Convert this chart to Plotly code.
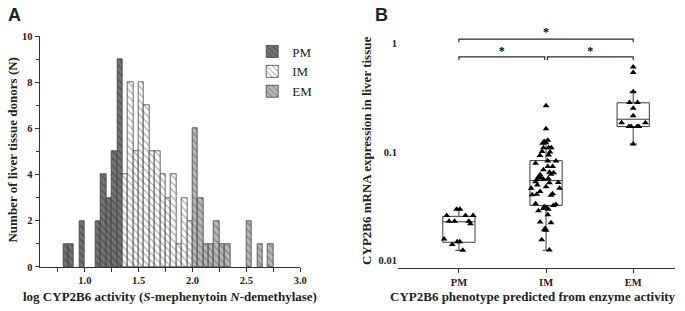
import plotly.graph_objects as go

# ---------------- Panel A data (histogram, bin width 0.05) ----------------
pm_bin_start = [0.80, 0.85, 0.95, 1.10, 1.15, 1.20, 1.25, 1.30]
pm_counts    = [1, 1, 2, 2, 4, 3, 5, 9]
im_bin_start = [1.35, 1.40, 1.45, 1.50, 1.55, 1.60, 1.65, 1.70, 1.75, 1.80, 1.85, 1.90, 1.95]
im_counts    = [4, 8, 5, 8, 7, 5, 5, 4, 3, 4, 1, 3, 2]
em_bin_start = [2.00, 2.05, 2.10, 2.15, 2.20, 2.25, 2.30, 2.50, 2.60, 2.70]
em_counts    = [6, 3, 1, 1, 2, 1, 1, 2, 1, 1]
bin_width = 0.05

# ---------------- Panel B data (mRNA expression) ----------------
categories = ["PM", "IM", "EM"]
pm_values = [0.0298, 0.0298, 0.0260, 0.0260, 0.0260, 0.0231, 0.0231, 0.0231,
             0.0219, 0.0158, 0.0141, 0.0149, 0.0149, 0.01245]
pm_jitter = [-0.026, 0.011, -0.14, 0.076, 0.163, -0.114, -0.049, 0.114,
             0.133, -0.17, -0.076, -0.019, 0.011, 0.045]
im_values = [0.268, 0.164, 0.129, 0.125, 0.121, 0.122, 0.110, 0.110, 0.110, 0.1016,
             0.1004, 0.093, 0.094, 0.0828, 0.079, 0.0739, 0.0739, 0.0689, 0.0653, 0.0644,
             0.0627, 0.0618, 0.0589, 0.0577, 0.0558, 0.0561, 0.0570, 0.0525, 0.0522, 0.0532,
             0.0464, 0.0464, 0.0434, 0.0410, 0.0405, 0.0413, 0.0400, 0.0334, 0.0330, 0.0323,
             0.0313, 0.0308, 0.0302, 0.0298, 0.0288, 0.0265, 0.0227, 0.0224, 0.0198, 0.0191,
             0.0193, 0.0156, 0.01253, 0.048, 0.0828, 0.0497]
im_jitter = [0, 0, 0.02, -0.02, -0.04, 0, -0.03, 0.03, 0.06, -0.045,
             0.045, -0.07, 0.03, 0.114, -0.12, 0.02, 0.076, -0.03, 0.038, 0.087,
             0.057, -0.068, -0.087, -0.057, -0.106, -0.03, 0.026, 0.14, 0.038, -0.12,
             -0.17, 0.155, -0.068, -0.106, -0.16, 0.076, 0.057, -0.12, 0.114, 0.083,
             -0.02, 0.01, -0.03, 0.026, -0.087, 0.02, -0.068, 0.057, -0.01, 0,
             -0.02, -0.05, 0.038, 0, 0.02, -0.1]
em_values = [0.608, 0.541, 0.360, 0.287, 0.287, 0.254, 0.216, 0.187, 0.187,
             0.172, 0.172, 0.172, 0.172, 0.119]
em_jitter = [0, 0, 0, -0.042, 0.049, 0, 0, -0.133, 0.14, -0.049, -0.023, 0.045, 0.065, 0]

box_q1 = [0.01476, 0.0323, 0.172]
box_median = [0.0228, 0.0547, 0.201]
box_q3 = [0.0256, 0.0835, 0.285]
box_lower = [0.01245, 0.01245, 0.119]
box_upper = [0.0298, 0.129, 0.360]

# significance brackets: (from category, to category, level)
brackets = [(0, 2, 1.10), (0, 0.985, 0.755), (1.015, 2, 0.755)]
bracket_drop = [1.027, 0.706, 0.706]
star_levels = [1.25, 0.835, 0.835]
star_text = ["*", "*", "*"]

SERIF = "Liberation Serif"
AX = "#333333"
TXT = "#222222"

fig = go.Figure()

def centers(starts):
    return [s + bin_width / 2 for s in starts]

hist_styles = [
    ("PM", pm_bin_start, pm_counts, "#747474", "#2a2a2a"),
    ("IM", im_bin_start, im_counts, "#ffffff", "#555555"),
    ("EM", em_bin_start, em_counts, "#b8b8b8", "#4a4a4a"),
]
for name, starts, counts, fill, fg in hist_styles:
    fig.add_trace(go.Bar(
        x=centers(starts), y=counts, width=bin_width, name=name,
        marker=dict(color=fill, line=dict(color="#404040", width=0.8),
                    pattern=dict(shape="\\", fgcolor=fg, bgcolor=fill, size=5, solidity=0.25)),
        xaxis="x", yaxis="y", showlegend=True,
    ))

for i in range(3):
    fig.add_trace(go.Box(
        x=[i], q1=[box_q1[i]], median=[box_median[i]], q3=[box_q3[i]],
        lowerfence=[box_lower[i]], upperfence=[box_upper[i]],
        width=0.37, whiskerwidth=0.22, fillcolor="white",
        line=dict(color="#3a3a3a", width=1), boxpoints=False,
        xaxis="x2", yaxis="y2", showlegend=False,
    ))

for i, (vals, jit) in enumerate([(pm_values, pm_jitter), (im_values, im_jitter), (em_values, em_jitter)]):
    fig.add_trace(go.Scatter(
        x=[i + j for j in jit], y=vals, mode="markers",
        marker=dict(symbol="triangle-up", size=6, color="black"),
        xaxis="x2", yaxis="y2", showlegend=False,
    ))

for (a, b, lvl), drop in zip(brackets, bracket_drop):
    fig.add_trace(go.Scatter(
        x=[a, a, b, b], y=[drop, lvl, lvl, drop], mode="lines",
        line=dict(color="#2a2a2a", width=1.2), xaxis="x2", yaxis="y2",
        showlegend=False, hoverinfo="skip",
    ))
fig.add_trace(go.Scatter(
    x=[(a + b) / 2 for a, b, _ in brackets], y=star_levels, mode="text", text=star_text,
    textposition="middle center",
    textfont=dict(family=SERIF, size=12, color="#000000", weight="bold"),
    xaxis="x2", yaxis="y2", showlegend=False, hoverinfo="skip",
))

tickfont = dict(family=SERIF, size=10.5, color=TXT, weight="bold")

fig.update_layout(
    width=685, height=311, margin=dict(l=0, r=0, t=0, b=0),
    paper_bgcolor="white", plot_bgcolor="white",
    bargap=0, barmode="overlay",
    font=dict(family=SERIF, color=TXT),
    xaxis=dict(domain=[40 / 685, 303.3 / 685], range=[0.58, 3.0], anchor="y",
               tickvals=[1.0, 1.5, 2.0, 2.5, 3.0], ticktext=["1.0", "1.5", "2.0", "2.5", "3.0"],
               ticks="outside", ticklen=4, tickcolor=AX, showline=True, linecolor=AX,
               linewidth=1, showgrid=False, zeroline=False, tickfont=tickfont,
               minor=dict(tickvals=[0.75, 1.25, 1.75, 2.25, 2.75], ticks="outside",
                          ticklen=4, tickcolor=AX)),
    yaxis=dict(domain=[(311 - 271.5) / 311, (311 - 32.3) / 311], range=[0, 10], anchor="x",
               tickvals=[0, 2, 4, 6, 8, 10], ticks="outside", ticklen=4, tickcolor=AX,
               showline=True, linecolor=AX, linewidth=1, showgrid=False, zeroline=False,
               tickfont=tickfont,
               minor=dict(tickvals=[1, 3, 5, 7, 9], ticks="outside", ticklen=3, tickcolor=AX)),
    xaxis2=dict(domain=[402 / 685, 682 / 685], range=[-0.70, 2.48], anchor="y2",
                tickvals=[0, 1, 2], ticktext=categories, ticks="outside", ticklen=4,
                tickcolor=AX, showline=True, linecolor=AX, linewidth=1, showgrid=False,
                zeroline=False, tickfont=tickfont),
    yaxis2=dict(domain=[(311 - 273) / 311, (311 - 18) / 311], type="log",
                range=[-2.071, 0.196], anchor="x2",
                tickvals=[0.01, 0.1, 1], ticktext=["0.01", "0.1", "1"], ticks="",
                showline=False, showgrid=False, zeroline=False, tickfont=tickfont),
    legend=dict(x=0.372, y=0.895, xanchor="left", yanchor="top",
                font=dict(family=SERIF, size=13, color=TXT), bgcolor="rgba(0,0,0,0)",
                itemwidth=30, tracegroupgap=0),
    showlegend=True,
)

ann_font = dict(family=SERIF, size=13, color=TXT, weight="bold")

def label(x, y, text, angle=0, font=ann_font):
    fig.add_annotation(x=x / 685, y=1 - y / 311, xref="paper", yref="paper",
                       xanchor="center", yanchor="middle", text=text, textangle=angle,
                       showarrow=False, font=font)

label(13, 150, "Number of liver tissue donors (N)", -90)
label(172, 302, "log CYP2B6 activity (<i>S</i>-mephenytoin <i>N</i>-demethylase)")
label(370, 151, "CYP2B6 mRNA expression in liver tissue", -90)
label(539, 302, "CYP2B6 phenotype predicted from enzyme activity")
panel_font = dict(family="Liberation Sans", size=18, color=TXT, weight="bold")
label(15, 10, "A", font=panel_font)
label(385, 10, "B", font=panel_font)

fig.write_html("out.html", config={"displayModeBar": False},
               post_script="document.body.style.margin='0';document.body.style.padding='0';")
